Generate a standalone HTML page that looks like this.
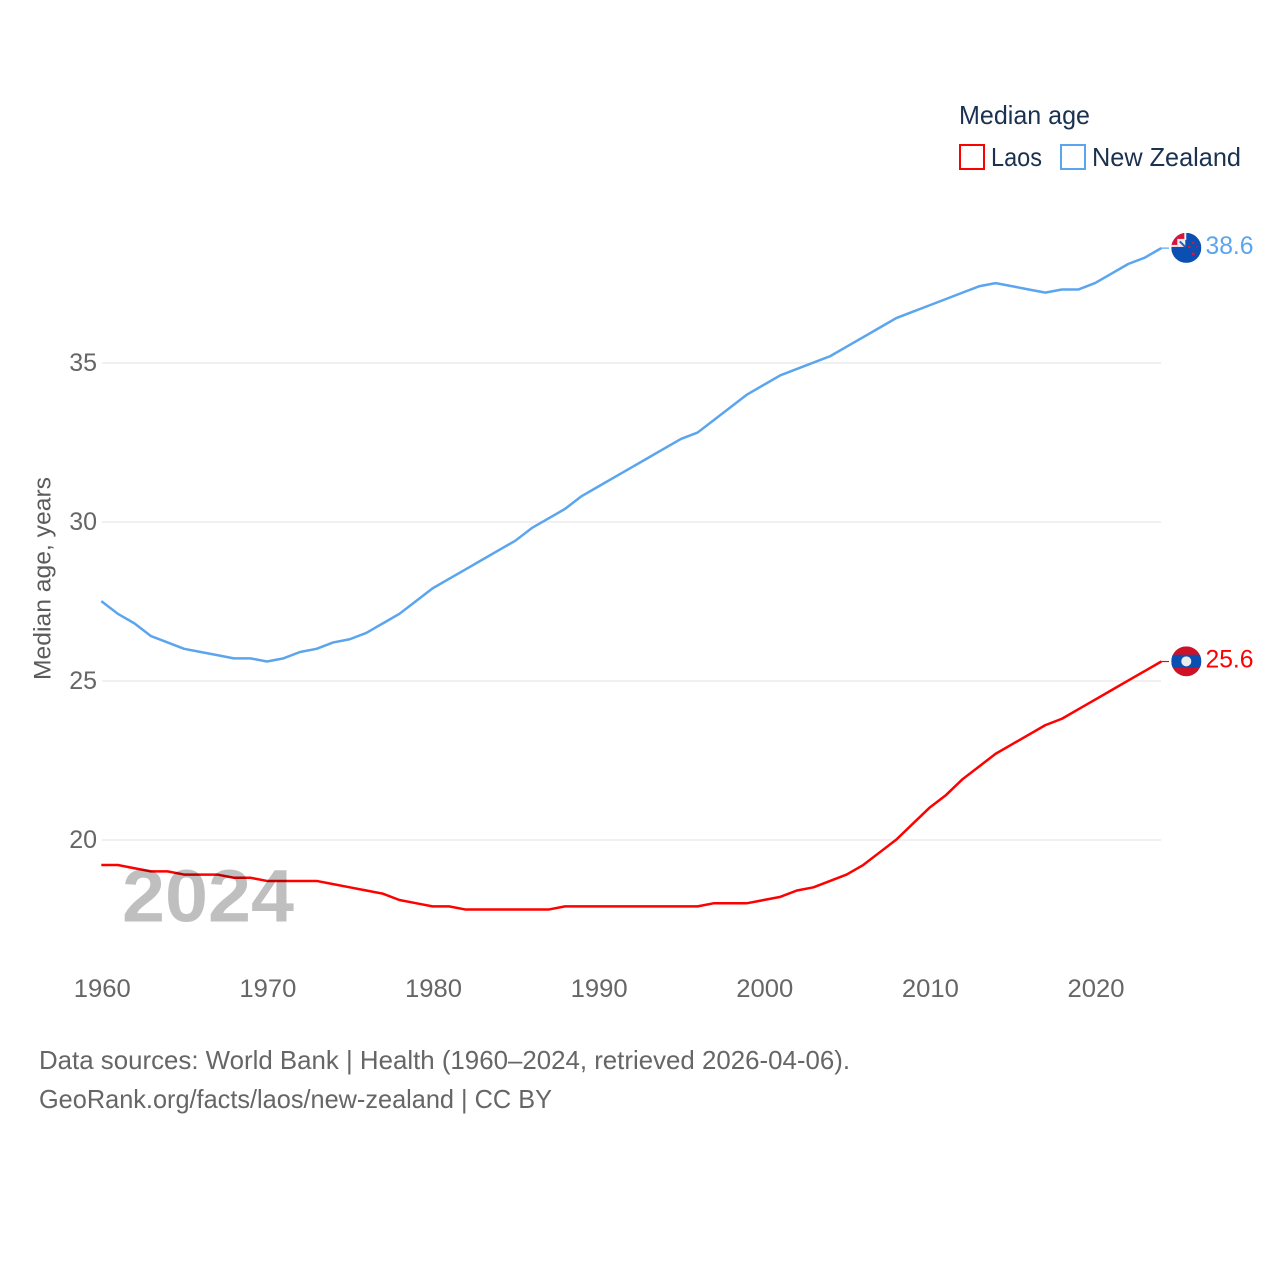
<!DOCTYPE html>
<html lang="en">
<head>
<meta charset="utf-8">
<title>Median age: Laos vs New Zealand</title>
<style>
html,body{margin:0;padding:0;background:#fff;width:1280px;height:1280px;overflow:hidden}
svg{display:block}
text{font-family:"Liberation Sans",sans-serif}
</style>
</head>
<body>
<svg id="chart" xmlns="http://www.w3.org/2000/svg" width="1280" height="1280" viewBox="0 0 1280 1280">
  <defs>
    <clipPath id="nz-clip"><circle cx="0" cy="0" r="15"/></clipPath>
    <clipPath id="la-clip"><circle cx="0" cy="0" r="15"/></clipPath>
  </defs>
  <g id="grid"></g>
  <g id="yticks"></g>
  <g id="xticks"></g>
  <text transform="translate(50.5,680) rotate(-90)" font-size="24" fill="#5b5b5b" textLength="203" lengthAdjust="spacingAndGlyphs">Median age, years</text>
  <g id="series"></g>
  <g id="ends"></g>
  <text x="122" y="921.5" font-size="74" font-weight="bold" fill="#000" fill-opacity="0.25" textLength="172" lengthAdjust="spacingAndGlyphs">2024</text>

  <g>
    <text x="959" y="124" font-size="26" fill="#1a3150" textLength="131" lengthAdjust="spacingAndGlyphs">Median age</text>
    <g>
      <rect x="960" y="145" width="24" height="24" fill="#fff" stroke="#ff0000" stroke-width="2"/>
      <text x="991" y="166" font-size="26" fill="#1a3150" textLength="51" lengthAdjust="spacingAndGlyphs">Laos</text>
    </g>
    <g>
      <rect x="1061" y="145" width="24" height="24" fill="#fff" stroke="#5ba5ee" stroke-width="2"/>
      <text x="1092" y="166" font-size="26" fill="#1a3150" textLength="149" lengthAdjust="spacingAndGlyphs">New Zealand</text>
    </g>
  </g>

  <g>
    <text x="39" y="1069" font-size="26" fill="#666666" textLength="811" lengthAdjust="spacingAndGlyphs">Data sources: World Bank | Health (1960–2024, retrieved 2026-04-06).</text>
    <text x="39" y="1108" font-size="26" fill="#666666" textLength="513" lengthAdjust="spacingAndGlyphs">GeoRank.org/facts/laos/new-zealand | CC BY</text>
  </g>
</svg>
<script>
const years = [1960,1961,1962,1963,1964,1965,1966,1967,1968,1969,1970,1971,1972,1973,1974,1975,1976,1977,1978,1979,1980,1981,1982,1983,1984,1985,1986,1987,1988,1989,1990,1991,1992,1993,1994,1995,1996,1997,1998,1999,2000,2001,2002,2003,2004,2005,2006,2007,2008,2009,2010,2011,2012,2013,2014,2015,2016,2017,2018,2019,2020,2021,2022,2023,2024];
const laosValues = [19.2,19.2,19.1,19.0,19.0,18.9,18.9,18.9,18.8,18.8,18.7,18.7,18.7,18.7,18.6,18.5,18.4,18.3,18.1,18.0,17.9,17.9,17.8,17.8,17.8,17.8,17.8,17.8,17.9,17.9,17.9,17.9,17.9,17.9,17.9,17.9,17.9,18.0,18.0,18.0,18.1,18.2,18.4,18.5,18.7,18.9,19.2,19.6,20.0,20.5,21.0,21.4,21.9,22.3,22.7,23.0,23.3,23.6,23.8,24.1,24.4,24.7,25.0,25.3,25.6];
const newZealandValues = [27.5,27.1,26.8,26.4,26.2,26.0,25.9,25.8,25.7,25.7,25.6,25.7,25.9,26.0,26.2,26.3,26.5,26.8,27.1,27.5,27.9,28.2,28.5,28.8,29.1,29.4,29.8,30.1,30.4,30.8,31.1,31.4,31.7,32.0,32.3,32.6,32.8,33.2,33.6,34.0,34.3,34.6,34.8,35.0,35.2,35.5,35.8,36.1,36.4,36.6,36.8,37.0,37.2,37.4,37.5,37.4,37.3,37.2,37.3,37.3,37.5,37.8,38.1,38.3,38.6];
const yTickValues = [20,25,30,35];
const xTickValues = [1960,1970,1980,1990,2000,2010,2020];

const NS = 'http://www.w3.org/2000/svg';
function xScale(year){ return 101.3 + (year - 1960) * (1161.3 - 101.3) / (2024 - 1960); }
function yScale(v){ return 840 - (v - 20) * (840 - 363) / (35 - 20); }
function make(tag, attrs, parent){
  const el = document.createElementNS(NS, tag);
  for (const k in attrs) el.setAttribute(k, attrs[k]);
  parent.appendChild(el);
  return el;
}
const grid = document.getElementById('grid');
const yticks = document.getElementById('yticks');
const xticks = document.getElementById('xticks');
const series = document.getElementById('series');
const ends = document.getElementById('ends');

yTickValues.forEach(function(v){
  const y = Math.round(yScale(v));
  const line = make('line', {x1:102, x2:1161, y1:y, y2:y, stroke:'#e6e6e6', 'stroke-width':1.2}, grid);
  
  
  const t = make('text', {x:97, y:yScale(v)+8, 'text-anchor':'end', 'font-size':25, fill:'#666666'}, yticks);
  
  
  t.textContent = v;
});
xTickValues.forEach(function(v){
  const t = make('text', {x:xScale(v)+1, y:997, 'text-anchor':'middle', 'font-size':25, fill:'#666666', textLength:57, lengthAdjust:'spacingAndGlyphs'}, xticks);
  
  
  t.textContent = v;
});

function linePath(values){
  return values.map(function(v, i){
    return (i ? 'L' : 'M') + xScale(years[i]).toFixed(2) + ' ' + (yScale(v) - 0.4).toFixed(2);
  }).join(' ');
}

const laosLine = make('path', {d:linePath(laosValues), fill:'none', stroke:'#ff0000', 'stroke-width':2.5, 'stroke-linejoin':'round'}, series);


const nzLine = make('path', {d:linePath(newZealandValues), fill:'none', stroke:'#5ba5ee', 'stroke-width':2.5, 'stroke-linejoin':'round'}, series);



function endConnector(value, color, name){
  const y = yScale(value) - 0.4;
  const c = make('line', {x1:1161, x2:1169, y1:y, y2:y, stroke:color, 'stroke-width':1.2}, ends);
  
  
}
function endLabel(value, color, name){
  const t = make('text', {x:1205.5, y:yScale(value)+5.6, 'font-size':25, fill:color, textLength:48, lengthAdjust:'spacingAndGlyphs'}, ends);
  
  
  t.textContent = value.toFixed(1);
}

const laosLast = laosValues[laosValues.length - 1];
const nzLast = newZealandValues[newZealandValues.length - 1];
endConnector(laosLast, '#ff0000', 'connector-laos');
endConnector(nzLast, '#5ba5ee', 'connector-new-zealand');

/* Laos flag */
const la = make('g', {transform:'translate(1186.3,' + (yScale(laosLast) - 0.6) + ')', 'clip-path':'url(#la-clip)'}, ends);


make('rect', {x:-15, y:-15, width:30, height:30, fill:'#ce1126'}, la);
make('rect', {x:-15, y:-6.6, width:30, height:13.2, fill:'#0b4fb3'}, la);
make('circle', {cx:0, cy:0, r:5, fill:'#ececec'}, la);

/* New Zealand flag */
const nz = make('g', {transform:'translate(1186.3,' + (yScale(nzLast) - 0.6) + ')', 'clip-path':'url(#nz-clip)'}, ends);


make('rect', {x:-15, y:-15, width:30, height:30, fill:'#0b4fb3'}, nz);
make('rect', {x:-15, y:-15, width:14, height:14, fill:'#dc143c'}, nz);
make('rect', {x:-9, y:-9, width:8, height:8, fill:'#f0ecef'}, nz);
make('rect', {x:-2, y:-15, width:2, height:7, fill:'#f0ecef'}, nz);
make('rect', {x:-15, y:-3, width:6, height:2, fill:'#f0ecef'}, nz);
make('path', {d:'M-6.5 -6.5 L-1 -1', stroke:'#2a5fb5', 'stroke-width':2, fill:'none'}, nz);
make('circle', {cx:7, cy:-5, r:1.2, fill:'#dc143c'}, nz);
make('circle', {cx:10.5, cy:-1, r:0.8, fill:'#dc143c'}, nz);
make('circle', {cx:7, cy:6, r:1.5, fill:'#dc143c'}, nz);
make('circle', {cx:3, cy:-1, r:1.3, fill:'#dc143c'}, nz);

endLabel(laosLast, '#ff0000', 'value-label-laos');
endLabel(nzLast, '#5ba5ee', 'value-label-new-zealand');
</script>
</body>
</html>
